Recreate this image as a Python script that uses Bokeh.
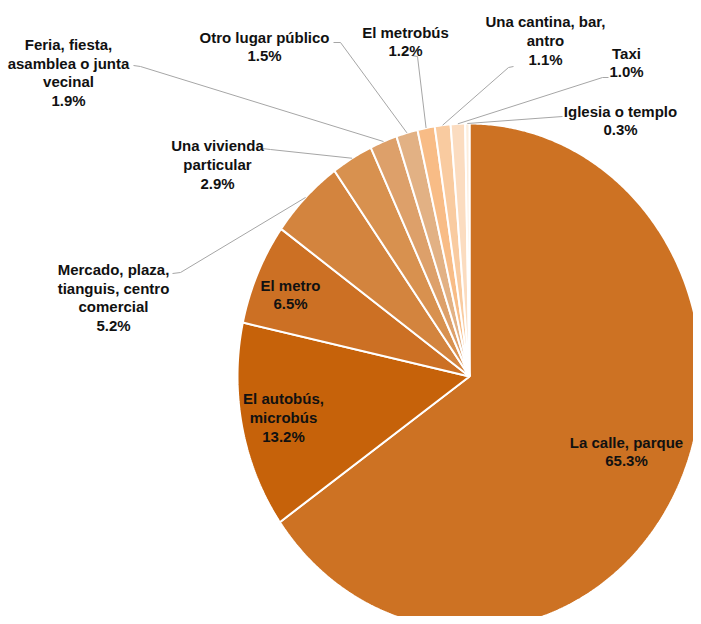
import numpy as np
from bokeh.plotting import figure
from bokeh.models import Range1d, ColumnDataSource
from bokeh.core.properties import value
from bokeh.embed import file_html
from bokeh.resources import INLINE

# ---- data ----
categories = ["La calle, parque", "El autobús, microbús", "El metro",
              "Mercado, plaza, tianguis, centro comercial", "Una vivienda particular",
              "Feria, fiesta, asamblea o junta vecinal", "Otro lugar público",
              "El metrobús", "Una cantina, bar, antro", "Taxi", "Iglesia o templo"]
values = [65.3, 13.2, 6.5, 5.2, 2.9, 1.9, 1.5, 1.2, 1.1, 1.0, 0.3]
label_texts = ["La calle, parque", "El autobús,\nmicrobús", "El metro",
               "Mercado, plaza,\ntianguis, centro\ncomercial", "Una vivienda\nparticular",
               "Feria, fiesta,\nasamblea o junta\nvecinal", "Otro lugar público",
               "El metrobús", "Una cantina, bar,\nantro", "Taxi", "Iglesia o templo"]

# ---- style / layout ----
colors = ["#CD7223", "#C6620A", "#CC7024", "#D3843E", "#D8914F", "#DDA06A",
          "#E2B184", "#F8BC86", "#F9CBA0", "#FBDCC0", "#FDEEDD"]
cx, cy, rx, ry = 469.0, 376.0, 232.0, 253.0
label_pos = [(626, 451), (283, 417), (290, 294), (113, 297), (217, 164),
             (68, 72), (264, 46), (405, 41), (545, 40), (626, 62), (620, 120)]
# leader-line anchors near labels (None for inside labels)
leader_anchor = [None, None, None,
                 [(172, 273), (180, 272)], [(262, 148), (270, 149)],
                 [(133, 65), (140, 66)], [(333, 42), (340, 42)],
                 [(411, 55), (417, 56)], [(513, 66), (508, 67)],
                 [(608, 77), (602, 77)], [(562, 116)]]

p = figure(width=693, height=616, output_backend="svg", toolbar_location=None,
           x_range=Range1d(0, 693), y_range=Range1d(616, 0),
           min_border=0, background_fill_color="white", border_fill_color="white")
p.axis.visible = False
p.grid.visible = False
p.outline_line_color = None

total = sum(values)
fr = np.cumsum([0] + values) / total
xs, ys = [], []
mids = []
for i in range(len(values)):
    a0 = np.pi / 2 - 2 * np.pi * fr[i]
    a1 = np.pi / 2 - 2 * np.pi * fr[i + 1]
    t = np.linspace(a0, a1, max(4, int(abs(a1 - a0) * 120)))
    xs.append([cx] + list(cx + rx * np.cos(t)) + [cx])
    ys.append([cy] + list(cy - ry * np.sin(t)) + [cy])
    mids.append((a0 + a1) / 2)

p.patches(xs=xs, ys=ys, fill_color=colors, line_color="white", line_width=2)

# leader lines
lx, ly = [], []
for i, anc in enumerate(leader_anchor):
    if anc is None:
        continue
    ex = cx + rx * np.cos(mids[i])
    ey = cy - ry * np.sin(mids[i])
    lx.append([a[0] for a in anc] + [ex])
    ly.append([a[1] for a in anc] + [ey])
p.multi_line(xs=lx, ys=ly, line_color="#A6A6A6", line_width=1)

texts = [f"{t}\n{v:.1f}%" for t, v in zip(label_texts, values)]
src = ColumnDataSource(dict(x=[q[0] for q in label_pos], y=[q[1] for q in label_pos], t=texts))
p.text(x="x", y="y", text="t", source=src, text_align="center", text_baseline="middle",
       text_font=value("Liberation Sans"), text_font_style="bold", text_font_size="15px",
       text_color="#111111", text_line_height=1.1)

open("out.html", "w").write(file_html(p, INLINE))
